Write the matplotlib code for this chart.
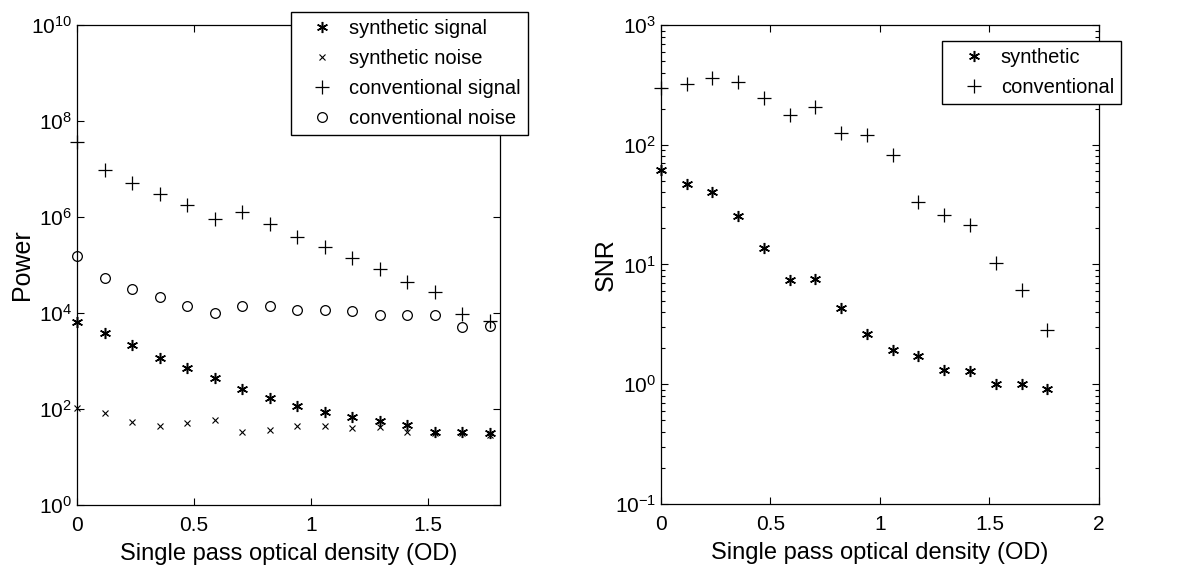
import numpy as np
import matplotlib
matplotlib.use("Agg")
import matplotlib.pyplot as plt
from matplotlib.ticker import LogLocator, FixedLocator, NullLocator

plt.rcParams['font.family'] = ['Liberation Sans', 'DejaVu Sans']
plt.rcParams['mathtext.fontset'] = 'custom'
plt.rcParams['mathtext.rm'] = 'Liberation Sans'
plt.rcParams['mathtext.it'] = 'Liberation Sans'

# single pass optical density values
od = [0, 0.118, 0.235, 0.353, 0.47, 0.588, 0.706, 0.824,
      0.941, 1.059, 1.176, 1.294, 1.412, 1.529, 1.647, 1.765]

# left panel: power
synthetic_signal = [6.6e3, 3.8e3, 2.2e3, 1.14e3, 710, 435, 257, 167,
                    117, 85, 68, 57, 46, 32.6, 32.6, 31]
synthetic_noise = [103, 81, 54, 45, 50, 60, 33, 37,
                   45, 45, 40, 43, 33, 31, 31, 29]
conventional_signal = [3.7e7, 9.5e6, 5.2e6, 3.0e6, 1.78e6, 9.1e5, 1.25e6, 7.1e5,
                       3.8e5, 2.4e5, 1.42e5, 8.1e4, 4.5e4, 2.7e4, 9.4e3, 6.9e3]
conventional_noise = [1.55e5, 5.3e4, 3.1e4, 2.2e4, 1.4e4, 9.8e3, 1.4e4, 1.42e4,
                      1.15e4, 1.15e4, 1.1e4, 9.2e3, 9.2e3, 9.2e3, 5.1e3, 5.4e3]

# right panel: SNR
snr_synthetic = [61.7, 46.9, 40.1, 25.5, 13.7, 7.4, 7.5, 4.3,
                 2.62, 1.92, 1.73, 1.32, 1.30, 1.0, 1.0, 0.91]
snr_conventional = [297, 325, 363, 333, 247, 178, 208, 126,
                    121, 82.5, 33.3, 26.1, 21.4, 10.2, 6.1, 2.86]

asterisk = (6, 2, 0)
fs = 15
legend_kw = dict(fontsize=14.5, frameon=True, fancybox=False, edgecolor='k', framealpha=1,
                 handletextpad=0.15, borderpad=0.35, labelspacing=0.55, handlelength=2.4,
                 borderaxespad=0)

fig = plt.figure(figsize=(11.89, 5.70), dpi=100)
ax1 = fig.add_axes([0.0648, 0.114, 0.3558, 0.842])
ax2 = fig.add_axes([0.5557, 0.116, 0.3686, 0.840])

ax1.plot(od, synthetic_signal, linestyle='None', marker=asterisk, color='k', markersize=8, mew=1.1, clip_on=False, label='synthetic signal')
ax1.plot(od, synthetic_noise, linestyle='None', marker='x', color='k', markersize=5, mew=0.8, clip_on=False, label='synthetic noise')
ax1.plot(od, conventional_signal, linestyle='None', marker='+', color='k', markersize=10, mew=0.9, clip_on=False, label='conventional signal')
ax1.plot(od, conventional_noise, linestyle='None', marker='o', color='k', mfc='none', markersize=7, mew=0.9, clip_on=False, label='conventional noise')
ax1.set_yscale('log')
ax1.set_xlim(0, 1.808)
ax1.set_ylim(1, 1e10)
ax1.yaxis.set_major_locator(FixedLocator([1, 1e2, 1e4, 1e6, 1e8, 1e10]))
ax1.yaxis.set_minor_locator(NullLocator())
ax1.set_xticks([0, 0.5, 1, 1.5])
ax1.set_xticklabels(['0', '0.5', '1', '1.5'])
ax1.set_xlabel('Single pass optical density (OD)', fontsize=17, labelpad=6)
ax1.set_ylabel('Power', fontsize=18, labelpad=-2)
ax1.legend(loc='upper left', bbox_to_anchor=(290.7 / 1189, 1 - 11.7 / 570), bbox_transform=fig.transFigure,
           **legend_kw)

ax2.plot(od, snr_synthetic, linestyle='None', marker=asterisk, color='k', markersize=8, mew=1.1, clip_on=False, label='synthetic')
ax2.plot(od, snr_conventional, linestyle='None', marker='+', color='k', markersize=10, mew=0.9, clip_on=False, label='conventional')
ax2.set_yscale('log')
ax2.set_xlim(0, 2)
ax2.set_ylim(0.1, 1000)
ax2.yaxis.set_major_locator(LogLocator(base=10, numticks=10))
ax2.yaxis.set_minor_locator(LogLocator(base=10, subs=np.arange(2, 10), numticks=10))
ax2.set_xticks([0, 0.5, 1, 1.5, 2])
ax2.set_xticklabels(['0', '0.5', '1', '1.5', '2'])
ax2.set_xlabel('Single pass optical density (OD)', fontsize=17, labelpad=6)
ax2.set_ylabel('SNR', fontsize=18, labelpad=-2)
ax2.legend(loc='upper left', bbox_to_anchor=(942.3 / 1189, 1 - 40.7 / 570), bbox_transform=fig.transFigure,
           **legend_kw)

for ax in (ax1, ax2):
    ax.tick_params(which='both', direction='in', top=True, right=True, labelsize=fs, length=5, width=0.8)
    ax.tick_params(axis='x', pad=8)
    ax.tick_params(which='minor', length=3)
    for s in ax.spines.values():
        s.set_linewidth(0.9)
    ax.patch.set_alpha(0)

ax1.set_zorder(2)
fig.savefig('out.png', dpi=100)
